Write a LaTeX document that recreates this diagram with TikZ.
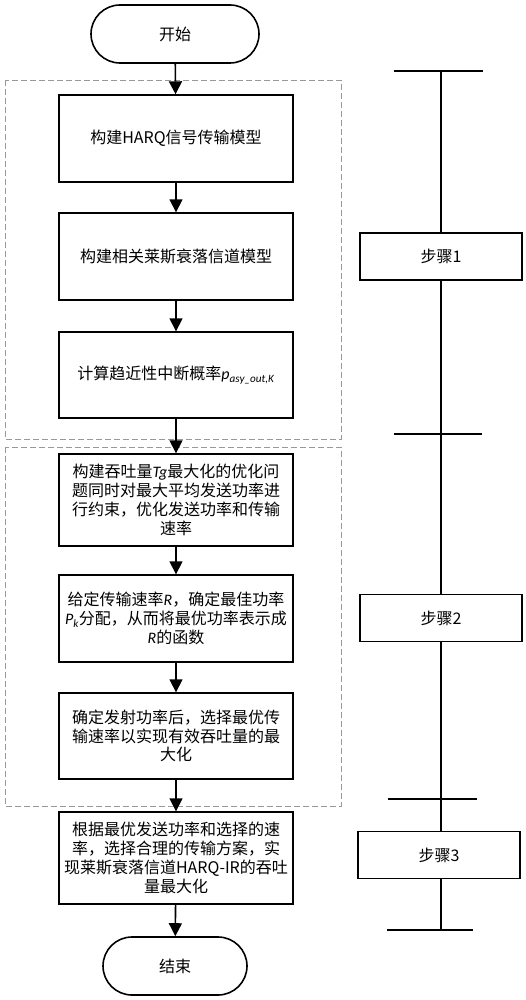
\documentclass[tikz,border=0pt]{standalone}
\usepackage{fontspec}
\setmainfont{Noto Sans CJK SC}
\newfontfamily\latin{Carlito}
\usetikzlibrary{arrows.meta}
\begin{document}
\begin{tikzpicture}[x=1pt,y=-1pt,
  box/.style={draw,line width=1.4pt,minimum width=234pt,align=center,inner sep=0pt,font=\fontsize{16}{18.8}\selectfont},
  term/.style={draw,line width=1.6pt,rounded corners=29pt,minimum height=58pt,inner sep=0pt,font=\fontsize{16}{18}\selectfont},
  stepbox/.style={draw,line width=1.4pt,fill=white,minimum width=162pt,minimum height=47pt,inner sep=0pt,font=\fontsize{16}{18}\selectfont},
  flow/.style={line width=1.6pt,-{Triangle[width=13pt,length=13pt]}},
  group/.style={draw=gray!80,dash pattern=on 6pt off 3pt,line width=0.9pt},
  bar/.style={line width=1.6pt}]
\useasboundingbox (0,0) rectangle (526,1000);
\draw[group] (5,80) rectangle (341,439);
\draw[group] (5,447) rectangle (341,806);
\node[term,minimum width=168pt] (start) at (175,34) {开始};
\node[box,minimum height=87pt] (b1) at (176,138.5) {构建HARQ信号传输模型};
\node[box,minimum height=87pt] (b2) at (176,256.5) {构建相关莱斯衰落信道模型};
\node[box,minimum height=86pt] (b3) at (176,375) {计算趋近性中断概率{\latin\itshape p\textsubscript{asy\_out,K}}};
\node[box,minimum height=92pt] (b4) at (176,500) {构建吞吐量{\latin\itshape Tg}最大化的优化问\\题同时对最大平均发送功率进\\行约束，优化发送功率和传输\\速率};
\node[box,minimum height=87pt] (b5) at (176,618.5) {给定传输速率{\latin\itshape R}，确定最佳功率\\{\latin\itshape P\textsubscript{k}}分配，从而将最优功率表示成\\{\latin\itshape R}的函数};
\node[box,minimum height=86pt] (b6) at (176,736) {确定发射功率后，选择最优传\\输速率以实现有效吞吐量的最\\大化};
\node[box,minimum height=92pt] (b7) at (176,858) {根据最优发送功率和选择的速\\率，选择合理的传输方案，实\\现莱斯衰落信道HARQ-IR的吞吐\\量最大化};
\node[term,minimum width=144pt] (end) at (175,966) {结束};
\draw[flow] (start) -- (b1);
\draw[flow] (b1) -- (b2);
\draw[flow] (b2) -- (b3);
\draw[flow] (b3) -- (b4);
\draw[flow] (b4) -- (b5);
\draw[flow] (b5) -- (b6);
\draw[flow] (b6) -- (b7);
\draw[flow] (b7) -- (end);
\coordinate (t0) at (441,71);
\coordinate (t1) at (441,434);
\coordinate (t2) at (441,799);
\coordinate (t3) at (441,930);
\node[stepbox] (s1) at (441,256.5) {步骤1};
\node[stepbox] (s2) at (441,618) {步骤2};
\node[stepbox] (s3) at (439,855) {步骤3};
\draw[bar] (t0) -- (s1);
\draw[bar] (s1) -- (t1);
\draw[bar] (t1) -- (s2);
\draw[bar] (s2) -- (t2);
\draw[bar] (t2) -- (s3.north -| t2);
\draw[bar] (s3.south -| t3) -- (t3);
\draw[bar] ([xshift=-47pt]t0) -- ([xshift=42pt]t0);
\draw[bar] ([xshift=-47pt]t1) -- ([xshift=41pt]t1);
\draw[bar] ([xshift=-53pt]t2) -- ([xshift=36pt]t2);
\draw[bar] ([xshift=-54pt]t3) -- ([xshift=32pt]t3);
\end{tikzpicture}
\end{document}
